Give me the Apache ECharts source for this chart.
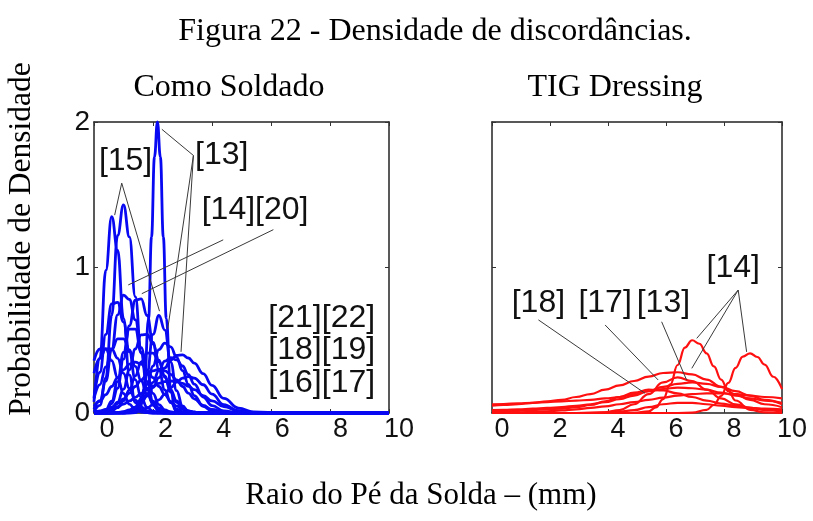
<!DOCTYPE html>
<html>
<head>
<meta charset="utf-8">
<script src="https://cdn.jsdelivr.net/npm/echarts@6/dist/echarts.min.js"></script>
<style>
html,body{margin:0;padding:0;background:#fff;}
#c{width:813px;height:521px;}
</style>
</head>
<body>
<div id="c"></div>
<script>
// ---------- texts ----------
const mainTitle = 'Figura 22 - Densidade de discordâncias.';
const panelTitles = ['Como Soldado', 'TIG Dressing'];
const yTitle = 'Probabilidade de Densidade';
const xTitle = 'Raio do Pé da Solda – (mm)';
const xTickLabels = [0, 2, 4, 6, 8, 10];
const yTickLabels = [0, 1, 2];

// ---------- left panel (Como Soldado), blue curves ----------
const xNarrow = [-0.4, 0.8, 1.0, 1.15, 1.3, 1.45, 1.55, 1.65, 1.75, 1.85, 1.95, 2.05, 2.2, 2.35, 2.5, 2.7, 9.6];
const b1 = [0, 0, 0.002, 0.022, 0.16, 0.65, 1.21, 1.76, 2.0, 1.76, 1.21, 0.65, 0.16, 0.022, 0.002, 0, 0];

const xb = [-0.4, -0.2, 0, 0.2, 0.4, 0.6, 0.8, 1.0, 1.2, 1.4, 1.6, 1.8, 2.0, 2.2, 2.4, 2.6, 2.8, 3.0, 3.3, 3.6, 4.0, 4.5, 5.0, 6.0, 9.6];
const b2 = [0.008, 0.053, 0.24, 0.67, 1.22, 1.43, 1.21, 0.80, 0.41, 0.17, 0.053, 0.013, 0.002, 0, 0, 0, 0, 0, 0, 0, 0, 0, 0, 0, 0];
const b3 = [0.076, 0.375, 0.98, 1.35, 1.12, 0.65, 0.26, 0.071, 0.014, 0.002, 0, 0, 0, 0, 0, 0, 0, 0, 0, 0, 0, 0, 0, 0, 0];
const b4 = [0.026, 0.085, 0.219, 0.435, 0.675, 0.81, 0.78, 0.64, 0.45, 0.27, 0.135, 0.058, 0.021, 0.007, 0.002, 0, 0, 0, 0, 0, 0, 0, 0, 0, 0];
const b5 = [0, 0.004, 0.018, 0.064, 0.17, 0.37, 0.60, 0.775, 0.785, 0.67, 0.485, 0.30, 0.158, 0.071, 0.027, 0.009, 0.003, 0, 0, 0, 0, 0, 0, 0, 0];
const b6 = [0.105, 0.28, 0.54, 0.75, 0.76, 0.625, 0.42, 0.23, 0.105, 0.039, 0.012, 0.003, 0, 0, 0, 0, 0, 0, 0, 0, 0, 0, 0, 0, 0];
const b7 = [0, 0, 0, 0, 0, 0, 0.003, 0.019, 0.09, 0.275, 0.54, 0.67, 0.57, 0.35, 0.154, 0.049, 0.011, 0.002, 0, 0, 0, 0, 0, 0, 0];
const b8 = [0, 0, 0, 0.002, 0.004, 0.01, 0.021, 0.04, 0.071, 0.116, 0.175, 0.243, 0.31, 0.365, 0.396, 0.40, 0.378, 0.343, 0.27, 0.19, 0.10, 0.034, 0.008, 0, 0];
const b9 = [0.10, 0.195, 0.316, 0.434, 0.51, 0.51, 0.434, 0.32, 0.22, 0.13, 0.07, 0.035, 0.015, 0.006, 0.002, 0, 0, 0, 0, 0, 0, 0, 0, 0, 0];
const b10 = [0, 0.002, 0.008, 0.028, 0.074, 0.164, 0.297, 0.44, 0.537, 0.541, 0.474, 0.364, 0.245, 0.144, 0.074, 0.034, 0.013, 0.005, 0.001, 0, 0, 0, 0, 0, 0];
const b11 = [0, 0, 0, 0, 0.001, 0.004, 0.014, 0.041, 0.099, 0.197, 0.323, 0.435, 0.48, 0.454, 0.384, 0.291, 0.197, 0.12, 0.046, 0.014, 0.002, 0, 0, 0, 0];
const b12 = [0.047, 0.08, 0.126, 0.182, 0.243, 0.297, 0.336, 0.35, 0.336, 0.297, 0.243, 0.182, 0.126, 0.08, 0.047, 0.025, 0.012, 0.005, 0.001, 0, 0, 0, 0, 0, 0];
const b13 = [0.007, 0.013, 0.024, 0.041, 0.065, 0.097, 0.137, 0.182, 0.227, 0.265, 0.29, 0.30, 0.29, 0.265, 0.227, 0.182, 0.137, 0.097, 0.052, 0.024, 0.007, 0.001, 0, 0, 0];
const b14 = [0, 0.001, 0.005, 0.014, 0.037, 0.083, 0.158, 0.255, 0.351, 0.412, 0.412, 0.351, 0.255, 0.158, 0.083, 0.037, 0.014, 0.005, 0.001, 0, 0, 0, 0, 0, 0];
const b15 = [0, 0, 0, 0, 0, 0, 0.004, 0.009, 0.018, 0.034, 0.057, 0.09, 0.13, 0.173, 0.212, 0.24, 0.25, 0.24, 0.194, 0.13, 0.057, 0.013, 0.002, 0, 0];
const b16 = [0.36, 0.44, 0.44, 0.36, 0.243, 0.134, 0.061, 0.022, 0.007, 0.002, 0, 0, 0, 0, 0, 0, 0, 0, 0, 0, 0, 0, 0, 0, 0];
const b17 = [0, 0, 0, 0, 0.002, 0.006, 0.015, 0.035, 0.073, 0.132, 0.21, 0.292, 0.356, 0.38, 0.365, 0.323, 0.263, 0.198, 0.11, 0.051, 0.014, 0.002, 0, 0, 0];
const b18 = [0, 0.004, 0.022, 0.081, 0.216, 0.416, 0.576, 0.576, 0.416, 0.216, 0.081, 0.022, 0.004, 0, 0, 0, 0, 0, 0, 0, 0, 0, 0, 0, 0];
const b19 = [0.273, 0.376, 0.441, 0.441, 0.376, 0.273, 0.169, 0.089, 0.04, 0.015, 0.005, 0.001, 0, 0, 0, 0, 0, 0, 0, 0, 0, 0, 0, 0, 0];
const b20 = [0.007, 0.012, 0.02, 0.03, 0.044, 0.061, 0.083, 0.107, 0.134, 0.16, 0.184, 0.203, 0.216, 0.22, 0.216, 0.203, 0.184, 0.16, 0.12, 0.083, 0.044, 0.016, 0.004, 0, 0];
const blueCurves = [b2, b3, b4, b5, b6, b7, b8, b9, b10, b11, b12, b13, b14, b15, b16, b17, b18, b19, b20];

// ---------- right panel (TIG Dressing), red curves ----------
const xr1 = [-0.4, 4.0, 4.5, 5.0, 5.25, 5.5, 5.75, 6.0, 6.25, 6.5, 6.75, 7.0, 7.25, 7.5, 7.75, 8.0, 8.5, 9.0, 9.6];
const r1 = [0, 0, 0.001, 0.012, 0.038, 0.096, 0.197, 0.33, 0.45, 0.50, 0.476, 0.41, 0.32, 0.23, 0.15, 0.086, 0.022, 0.004, 0];
const xr2 = [-0.4, 6.0, 6.5, 7.0, 7.25, 7.5, 7.75, 8.0, 8.25, 8.5, 8.75, 9.0, 9.3, 9.6];
const r2 = [0, 0, 0.002, 0.022, 0.055, 0.117, 0.207, 0.31, 0.388, 0.41, 0.385, 0.333, 0.249, 0.164];
const xr = [-0.4, 0, 0.5, 1, 1.5, 2, 2.5, 3, 3.5, 4, 4.5, 5, 5.5, 6, 6.5, 7, 7.5, 8, 8.5, 9, 9.6];
const r3 = [0.05, 0.055, 0.06, 0.07, 0.08, 0.09, 0.11, 0.13, 0.16, 0.19, 0.22, 0.25, 0.275, 0.28, 0.265, 0.23, 0.18, 0.13, 0.09, 0.06, 0.04];
const r4 = [0.02, 0.022, 0.025, 0.03, 0.035, 0.04, 0.05, 0.06, 0.075, 0.095, 0.12, 0.15, 0.18, 0.20, 0.21, 0.20, 0.18, 0.15, 0.12, 0.09, 0.06];
const r5 = [0.06, 0.062, 0.066, 0.07, 0.075, 0.08, 0.085, 0.09, 0.10, 0.11, 0.13, 0.15, 0.165, 0.175, 0.17, 0.16, 0.14, 0.12, 0.10, 0.085, 0.07];
const r6 = [0.01, 0.012, 0.015, 0.02, 0.025, 0.03, 0.04, 0.055, 0.08, 0.11, 0.14, 0.16, 0.155, 0.135, 0.11, 0.085, 0.065, 0.05, 0.035, 0.025, 0.015];
const r7 = [0, 0, 0, 0, 0, 0, 0, 0, 0.005, 0.02, 0.06, 0.13, 0.21, 0.245, 0.22, 0.16, 0.10, 0.06, 0.035, 0.02, 0.01];
const r8 = [0, 0, 0, 0, 0, 0, 0, 0.002, 0.005, 0.01, 0.02, 0.04, 0.06, 0.07, 0.07, 0.06, 0.05, 0.04, 0.035, 0.03, 0.025];
const r9 = [0, 0.002, 0.005, 0.008, 0.012, 0.018, 0.025, 0.035, 0.045, 0.06, 0.075, 0.09, 0.105, 0.12, 0.13, 0.135, 0.135, 0.13, 0.12, 0.11, 0.10];
const redCurves = [r3, r4, r5, r6, r7, r8, r9];

// ---------- annotations (data coordinates) ----------
const leftNotes = [
  {name: '[15]', value: [0.67, 1.73]},
  {name: '[13]', value: [3.93, 1.77]},
  {name: '[14][20]', value: [5.06, 1.395]},
  {name: '[21][22]', value: [7.32, 0.651]},
  {name: '[18][19]', value: [7.32, 0.433]},
  {name: '[16][17]', value: [7.32, 0.204]}
];
const leftLeaders = [
  [[0.54, 1.58], [0.30, 1.36]],
  [[0.54, 1.58], [1.82, 0.70]],
  [[2.97, 1.77], [1.90, 1.95]],
  [[2.97, 1.77], [2.10, 0.58]],
  [[2.97, 1.77], [2.55, 0.42]],
  [[3.98, 1.19], [0.76, 0.88]],
  [[5.68, 1.26], [1.22, 0.82]]
];
const rightNotes = [
  {name: '[18]', value: [1.20, 0.754]},
  {name: '[17]', value: [3.50, 0.754]},
  {name: '[13]', value: [5.51, 0.754]},
  {name: '[14]', value: [7.92, 0.994]}
];
const rightLeaders = [
  [[1.20, 0.64], [4.88, 0.135]],
  [[3.50, 0.605], [5.33, 0.227]],
  [[5.45, 0.627], [6.31, 0.227]],
  [[8.09, 0.845], [6.66, 0.513]],
  [[8.09, 0.845], [6.49, 0.307]],
  [[8.09, 0.845], [8.38, 0.42]]
];

// ---------- build ----------
const BLUE = '#0808f2', RED = '#ff1010', INK = '#111';
const serif = '"Liberation Serif","Times New Roman",serif';
const sans = '"Liberation Sans",Arial,sans-serif';

function curve(xs, ys, gi, color, w) {
  return {
    type: 'line', xAxisIndex: gi, yAxisIndex: gi, data: xs.map((x, i) => [x, ys[i]]),
    smooth: 0.45, smoothMonotone: 'x', symbol: 'none', clip: false, silent: true,
    lineStyle: {color: color, width: w}, z: 2
  };
}
function leader(seg, gi) {
  return {
    type: 'line', xAxisIndex: gi, yAxisIndex: gi, data: seg, symbol: 'none', silent: true, clip: false,
    lineStyle: {color: '#3a3a3a', width: 1}, z: 4
  };
}
function notes(list, gi) {
  return {
    type: 'scatter', xAxisIndex: gi, yAxisIndex: gi, data: list, symbolSize: 0, silent: true, z: 5,
    itemStyle: {opacity: 1},
    label: {show: true, position: 'inside', formatter: '{b}', fontFamily: sans, fontSize: 32, color: INK, textBorderWidth: 0, opacity: 1}
  };
}

const series = [];
series.push(curve(xNarrow, b1, 0, BLUE, 2.8));
blueCurves.forEach(c => series.push(curve(xb, c, 0, BLUE, 2.8)));
series.push(curve(xr1, r1, 2, RED, 2.2));
series.push(curve(xr2, r2, 2, RED, 2.2));
redCurves.forEach(c => series.push(curve(xr, c, 2, RED, 2.2)));
leftLeaders.forEach(s => series.push(leader(s, 0)));
rightLeaders.forEach(s => series.push(leader(s, 2)));
series.push(notes(leftNotes, 0));
series.push(notes(rightNotes, 2));

const boxLine = {show: true, onZero: false, lineStyle: {color: '#222', width: 1.5}};
const inTick = {show: true, inside: true, length: 4, lineStyle: {color: '#333', width: 1}};
function dataX(gridIndex, pos) {
  return {type: 'value', gridIndex: gridIndex, position: pos, min: -0.4, max: 9.6, interval: 2,
    axisLine: boxLine, axisTick: inTick, axisLabel: {show: false}, splitLine: {show: false}};
}
function dataY(gridIndex, pos, labels) {
  return {type: 'value', gridIndex: gridIndex, position: pos, min: 0, max: 2, interval: 1,
    axisLine: boxLine, axisTick: inTick, splitLine: {show: false},
    axisLabel: labels ? {show: true, fontFamily: sans, fontSize: 28, color: INK, margin: 4,
      formatter: v => (yTickLabels.indexOf(v) >= 0 ? String(v) : '')} : {show: false}};
}
function labelX(gridIndex) {
  return {type: 'value', gridIndex: gridIndex, position: 'bottom', min: xTickLabels[0], max: xTickLabels[xTickLabels.length - 1], interval: 2,
    axisLine: {show: false}, axisTick: {show: false}, splitLine: {show: false},
    axisLabel: {show: true, fontFamily: sans, fontSize: 27, color: INK, margin: 3}};
}
function txt(text, x, y, size, rot) {
  return {type: 'text', x: x, y: y, rotation: rot || 0,
    style: {text: text, font: size + 'px ' + serif, fill: '#000', align: 'center', verticalAlign: 'middle', textAlign: 'center', textVerticalAlign: 'middle'}};
}

const option = {
  animation: false,
  backgroundColor: '#fff',
  grid: [
    {left: 94, top: 122, width: 295, height: 291},
    {left: 492, top: 122, width: 290, height: 291},
    {left: 107, top: 122, width: 292, height: 291},
    {left: 502, top: 122, width: 290, height: 291}
  ],
  xAxis: [
    dataX(0, 'bottom'),   // 0: left data
    dataX(0, 'top'),      // 1: left top ticks
    dataX(1, 'bottom'),   // 2: right data
    dataX(1, 'top'),      // 3: right top ticks
    labelX(2),            // 4: left tick labels
    labelX(3)             // 5: right tick labels
  ],
  yAxis: [
    dataY(0, 'left', true),
    dataY(0, 'right', false),
    dataY(1, 'left', false),
    dataY(1, 'right', false),
    {type: 'value', gridIndex: 2, show: false, min: 0, max: 1},
    {type: 'value', gridIndex: 3, show: false, min: 0, max: 1}
  ],
  series: series,
  graphic: [
    txt(mainTitle, 435, 32, 32),
    txt(panelTitles[0], 229, 88, 32),
    txt(panelTitles[1], 615, 88, 32),
    txt(yTitle, 22, 239, 31.5, Math.PI / 2),
    txt(xTitle, 421, 496, 31)
  ]
};

const chart = echarts.init(document.getElementById('c'), null, {renderer: 'canvas'});
chart.setOption(option);
</script>
</body>
</html>
